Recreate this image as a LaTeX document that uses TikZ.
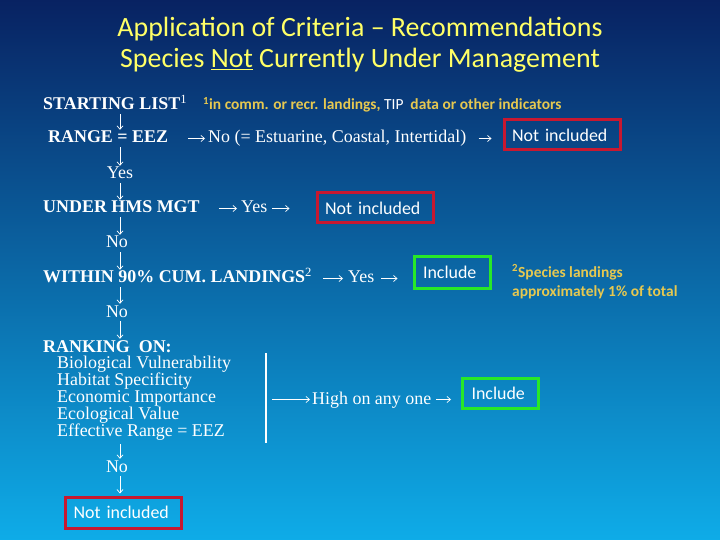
\documentclass[tikz,border=0pt]{standalone}
\usepackage{fontspec}
\setmainfont{Liberation Serif}
\newfontfamily\calib{Carlito}
\usetikzlibrary{arrows.meta}
\definecolor{mnavy}{RGB}{8,34,98}
\definecolor{mcyan}{RGB}{14,172,232}
\definecolor{myellow}{RGB}{255,255,102}
\definecolor{mgold}{RGB}{230,200,80}
\definecolor{mred}{RGB}{200,24,48}
\definecolor{mgreen}{RGB}{40,232,40}

\begin{document}
\begin{tikzpicture}[x=1bp, y=-1bp, >={Straight Barb[length=3.5bp, width=6bp]},
    txt/.style={white, font=\fontsize{18}{18}\selectfont, inner sep=0, text height=13bp, text depth=4bp},
    head/.style={txt, font=\fontsize{18}{18}\selectfont\bfseries},
    note/.style={mgold, font=\calib\fontsize{15.5}{19}\selectfont\bfseries, inner sep=0, align=left},
    outbox/.style={draw=mred, line width=3bp, text=white, font=\calib\fontsize{18}{18}\selectfont,
      text width=100bp, inner xsep=8bp, inner ysep=0, minimum height=30bp, align=left},
    inbox/.style={outbox, draw=mgreen, text width=58bp, inner xsep=9bp},
    dn/.style={->, white, line width=0.7bp},
    rt/.style={->, white, line width=0.7bp}]

      \useasboundingbox (0,0) rectangle (720,540);
      \shade [top color=mnavy, bottom color=mcyan] (0,0) rectangle (720,540);

      \node [myellow, font=\calib\fontsize{28}{28}\selectfont, anchor=base] (title1) at (360,37) {Application of Criteria – Recommendations};
      \node [myellow, font=\calib\fontsize{28}{28}\selectfont, anchor=base] (title2) at (360,68) {Species \underline{Not} Currently Under Management};

      \coordinate (spine) at (120,0);

      \node [head, anchor=base west] (start) at (43,110) {STARTING LIST\textsuperscript{\mdseries 1}};
      \node [note, anchor=base west] (note1) at (203,110) {\textsuperscript{1}in comm. or recr. landings, {\mdseries\color{white}TIP}\ \ data or other indicators};

      \node [head, anchor=base west] (range) at (48,143) {RANGE = EEZ};
      \node [txt, anchor=base west] (rngno) at (208,143) {No (= Estuarine, Coastal, Intertidal)};
      \node [outbox] (out1) at (562,135) {Not included};

      \node [txt, anchor=base] (yes1) at (120,179) {Yes};

      \node [head, anchor=base west] (hms) at (43,213) {UNDER HMS MGT};
      \node [txt, anchor=base west] (hmsyes) at (241,213) {Yes};
      \node [outbox] (out2) at (375,208) {Not included};

      \node [txt, anchor=base] (no1) at (117,248) {No};

      \node [head, anchor=base west] (land) at (43,283) {WITHIN 90\% CUM. LANDINGS\textsuperscript{\mdseries 2}};
      \node [txt, anchor=base west] (landyes) at (348,283) {Yes};
      \node [inbox, minimum height=31bp] (in1) at (452,272.5) {Include};
      \node [note, anchor=base west] (note2) at (512,296) {\textsuperscript{2}Species landings\\approximately 1\% of total};

      \node [txt, anchor=base] (no2) at (117,317) {No};

      \node [head, anchor=base west] (rank) at (43,352) {RANKING\ \ ON:};
      \node [white, font=\fontsize{18}{17}\selectfont, inner sep=0, align=left, anchor=base west] (crit) at (57,436)
        {Biological Vulnerability\\Habitat Specificity\\Economic Importance\\Ecological Value\\Effective Range = EEZ};

      \coordinate (bartop) at (266,353);
      \coordinate (barbot) at (266,443);
      \draw [white, line width=1.5bp] (bartop) -- (barbot);
      \node [txt, anchor=base west] (high) at (312,404) {High on any one};
      \node [inbox] (in2) at (500.5,393) {Include};

      \node [txt, anchor=base] (no3) at (117,472) {No};
      \node [outbox, minimum height=31bp] (out3) at (123.5,512.5) {Not included};

      \draw [dn] (start.south -| spine) -- (range.north -| spine);
      \draw [dn] (range.south -| spine) -- (yes1.north -| spine);
      \draw [dn] (yes1.south -| spine) -- (hms.north -| spine);
      \draw [dn] (hms.south -| spine) -- (no1.north -| spine);
      \draw [dn] (no1.south -| spine) -- (land.north -| spine);
      \draw [dn] (land.south -| spine) -- (no2.north -| spine);
      \draw [dn] (no2.south -| spine) -- (rank.north -| spine);
      \draw [dn, shorten <=4bp] (crit.south -| spine) -- (no3.north -| spine);
      \draw [dn, shorten >=2bp] (no3.south -| spine) -- (out3.north -| spine);

      \draw [rt, shorten <=20bp, shorten >=3bp] (range.east) -- (rngno.west);
      \draw [rt, shorten <=12bp, shorten >=11bp] (rngno.east) -- (rngno.east -| out1.west);
      \draw [rt, shorten <=19bp, shorten >=4bp] (hms.east) -- (hmsyes.west);
      \draw [rt, shorten <=5bp, shorten >=26bp] (hmsyes.east) -- (hmsyes.east -| out2.west);
      \draw [rt, shorten <=11bp, shorten >=5bp] (land.east) -- (landyes.west);
      \draw [rt, shorten <=7bp, shorten >=15bp] (landyes.east) -- (landyes.east -| in1.west);
      \draw [rt, shorten <=6bp, shorten >=2bp] (bartop |- high.west) -- (high.west);
      \draw [rt, shorten <=5bp, shorten >=10bp] (high.east) -- (high.east -| in2.west);
    \end{tikzpicture}
\end{document}
